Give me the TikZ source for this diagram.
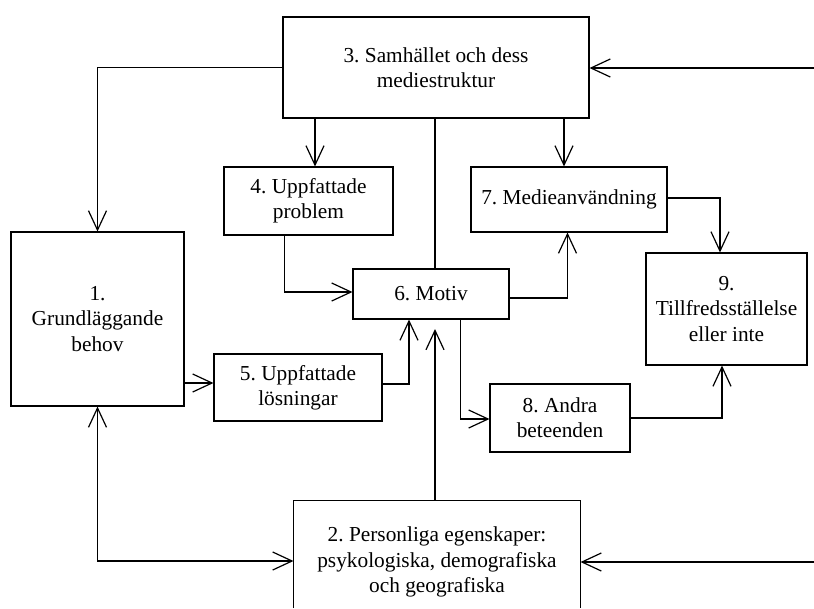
\documentclass[tikz,border=0pt]{standalone}
\usepackage{fontspec}
\setmainfont{Liberation Serif}
\usetikzlibrary{arrows.meta,calc}
\begin{document}
\frenchspacing
\begin{tikzpicture}[x=0.75pt,y=-0.75pt,
  box/.style={draw,line width=0.8pt,align=center,inner sep=0pt,font=\fontsize{16}{19}\selectfont\frenchspacing},
  tip/.tip={Straight Barb[length=14.5pt,width=13.5pt,line width=0.9pt]},
  arr/.style={line width=0.9pt,-tip},
  dbl/.style={line width=0.9pt,tip-tip},
  ln/.style={line width=0.9pt}]
\useasboundingbox (0,0) rectangle (814,608);
% boxes
\node[box,minimum width=129.75pt,minimum height=130.5pt] (b1) at (97.5,319) {1.\\Grundläggande\\behov};
\node[box,draw=none,minimum width=214.5pt,minimum height=91.5pt] (b2) at (437,562) {2. Personliga egenskaper:\\psykologiska, demografiska\\och geografiska};
\draw[line width=0.8pt] (b2.west |- 0,608) -- (b2.north west) -- (b2.north east) -- (b2.east |- 0,608);
\node[box,minimum width=229.5pt,minimum height=75.75pt] (b3) at (436,67.5) {3. Samhället och dess\\mediestruktur};
\node[box,minimum width=126.75pt,minimum height=51pt] (b4) at (308.5,201) {4. Uppfattade\\problem};
\node[box,minimum width=126pt,minimum height=50.25pt] (b5) at (298,387.5) {5. Uppfattade\\lösningar};
\node[box,minimum width=117pt,minimum height=37.5pt] (b6) at (431,294) {6. Motiv};
\node[box,minimum width=147pt,minimum height=48.75pt] (b7) at (569,199.5) {7. Medieanvändning};
\node[box,minimum width=105pt,minimum height=51pt] (b8) at (560,418) {8. Andra\\beteenden};
\node[box,minimum width=120.75pt,minimum height=84pt] (b9) at (726.5,309) {9.\\Tillfredsställelse\\eller inte};
% free ends
\coordinate (r3) at (814,68);
\coordinate (r2) at (814,562);
\coordinate (up) at (435,329);
% connectors
\draw[arr] (b3.west) -| (b1.north);
\draw[arr] (b3.south -| 315,0) -- (b4.north -| 315,0);
\draw[arr] (b3.south -| 564,0) -- (b7.north -| 564,0);
\draw[ln] (b3.south -| 435,0) -- (b6.north -| 435,0);
\draw[arr] (b4.south -| 284.5,0) |- (b6.west |- 0,292);
\draw[arr] (b6.east |- 0,298) -| (b7.south -| 567.5,0);
\draw[arr] (b7.east |- 0,198) -| (b9.north -| 720,0);
\draw[arr] (b1.east |- 0,383) -- (b5.west |- 0,383);
\draw[arr] (b5.east |- 0,384) -| (b6.south -| 409,0);
\draw[arr] (b2.north -| 435,0) -- (up);
\draw[arr] (b6.south -| 460.5,0) |- (b8.west |- 0,419);
\draw[arr] (b8.east |- 0,418) -| (b9.south -| 722,0);
\draw[dbl] (b1.south) |- (b2.west |- 0,561);
\draw[arr] (r3) -- (b3.east |- r3);
\draw[arr] (r2) -- (b2.east |- r2);
\end{tikzpicture}
\end{document}
